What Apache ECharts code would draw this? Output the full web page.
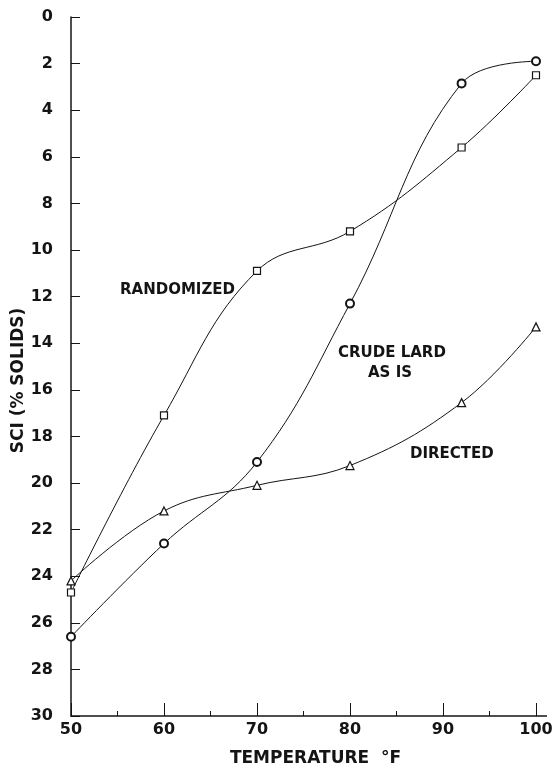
<!DOCTYPE html>
<html>
<head>
<meta charset="utf-8">
<script src="https://cdn.jsdelivr.net/npm/echarts@6/dist/echarts.min.js"></script>
<style>
  html, body { margin: 0; padding: 0; background: #fff; }
  #chart { width: 558px; height: 768px; }
</style>
</head>
<body>
<div id="chart"></div>
<script>
// Solid content index (% solids) of lard samples versus temperature
const temperatures = [50, 60, 70, 80, 92, 100];
const randomized = [24.7, 17.1, 10.9, 9.2, 5.6, 2.5];
const crudeLard  = [26.6, 22.6, 19.1, 12.3, 2.85, 1.9];
const directed   = [24.2, 21.2, 20.1, 19.25, 16.55, 13.3];

const xTicks = [50, 60, 70, 80, 90, 100];
const yTicks = [0, 2, 4, 6, 8, 10, 12, 14, 16, 18, 20, 22, 24, 26, 28, 30];

const ink = '#141414';
const font = '"DejaVu Sans", sans-serif';

function pairs(ys) {
  return temperatures.map((t, i) => [t, ys[i]]);
}

function lineSeries(name, ys, symbol, size, bw) {
  return {
    name: name,
    type: 'line',
    data: pairs(ys),
    smooth: 0.4,
    symbol: symbol,
    symbolSize: size,
    showAllSymbol: true,
    lineStyle: { color: ink, width: 1 },
    itemStyle: { color: '#fff', borderColor: ink, borderWidth: bw },
    z: 3
  };
}

const chart = echarts.init(document.getElementById('chart'), null, { renderer: 'canvas' });

chart.setOption({
  animation: false,
  backgroundColor: '#fff',
  grid: { left: 71, right: 22, top: 17, bottom: 52, containLabel: false, outerBoundsMode: 'none' },
  xAxis: {
    type: 'value',
    position: 'bottom',
    min: xTicks[0],
    max: xTicks[xTicks.length - 1],
    interval: 10,
    name: 'TEMPERATURE  °F',
    nameLocation: 'middle',
    nameGap: 34,
    nameMoveOverlap: false,
    nameTextStyle: { color: ink, fontFamily: font, fontWeight: 'bold', fontSize: 17, padding: [0, 0, 0, 24] },
    axisLine: { show: true, onZero: false, lineStyle: { color: ink, width: 1.5 } },
    axisTick: { show: true, inside: true, length: 13, lineStyle: { color: ink, width: 1 } },
    minorTick: { show: true, splitNumber: 2, length: 5, lineStyle: { color: ink, width: 1 } },
    axisLabel: { color: ink, fontFamily: font, fontWeight: 'bold', fontSize: 16, margin: 6 },
    splitLine: { show: false },
    minorSplitLine: { show: false }
  },
  yAxis: {
    type: 'value',
    position: 'left',
    inverse: true,
    min: yTicks[0],
    max: yTicks[yTicks.length - 1],
    interval: 2,
    name: 'SCI (% SOLIDS)',
    nameLocation: 'middle',
    nameGap: 44,
    nameRotate: 90,
    nameMoveOverlap: false,
    nameTextStyle: { color: ink, fontFamily: font, fontWeight: 'bold', fontSize: 17, padding: [0, 28, 0, 0] },
    axisLine: { show: true, onZero: false, lineStyle: { color: ink, width: 1.5 } },
    axisTick: { show: true, inside: true, length: 9, lineStyle: { color: ink, width: 1 } },
    axisLabel: { color: ink, fontFamily: font, fontWeight: 'bold', fontSize: 16, margin: 18 },
    splitLine: { show: false }
  },
  series: [
    lineSeries('RANDOMIZED', randomized, 'rect', 7, 1.2),
    lineSeries('CRUDE LARD AS IS', crudeLard, 'circle', 8, 2),
    lineSeries('DIRECTED', directed, 'triangle', 8, 1.2)
  ],
  graphic: [
    { type: 'line', shape: { x1: 536, y1: 716, x2: 547, y2: 716 }, style: { stroke: ink, lineWidth: 1.5 } },
    { type: 'text', left: 120, top: 283, style: { text: 'RANDOMIZED', fill: ink, font: 'bold 15px ' + font } },
    { type: 'text', left: 338, top: 346, style: { text: 'CRUDE LARD', fill: ink, font: 'bold 15px ' + font } },
    { type: 'text', left: 368, top: 366, style: { text: 'AS IS', fill: ink, font: 'bold 15px ' + font } },
    { type: 'text', left: 410, top: 447, style: { text: 'DIRECTED', fill: ink, font: 'bold 15px ' + font } }
  ]
});
</script>
</body>
</html>
